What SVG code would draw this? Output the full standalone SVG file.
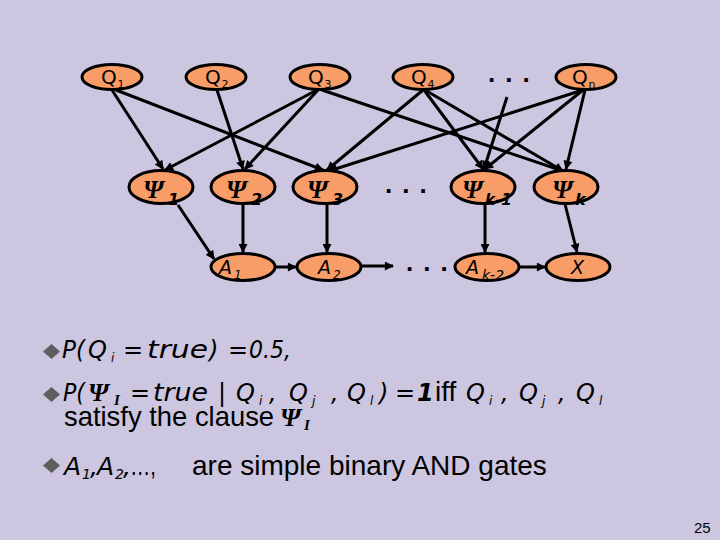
<svg xmlns="http://www.w3.org/2000/svg" width="720" height="540" viewBox="0 0 720 540">
<style>
.nd{fill:#F99D68;stroke:#000;stroke-width:3}
.e{stroke:#000;stroke-width:3;fill:none;marker-end:url(#arr)}
.t{font-family:"DejaVu Sans",sans-serif;fill:#000}
.i{font-style:italic}
.ps{font-family:"Liberation Serif",serif;font-style:italic;font-weight:bold;fill:#000}
.ar{font-family:"Liberation Sans",Arial,sans-serif;fill:#000}
.dots{font-family:"Liberation Sans",sans-serif;font-weight:bold;font-size:26px;letter-spacing:10px;fill:#000}
.bul{fill:#5e5e5e}
</style>
<defs>
<marker id="arr" viewBox="0 0 10 10" refX="9" refY="5" markerWidth="11" markerHeight="9" markerUnits="userSpaceOnUse" orient="auto"><path d="M0,0 L10,5 L0,10 z" fill="#000"/></marker>
</defs>
<rect width="720" height="540" fill="#CCC6E0"/>
<g id="connectors">
<line class="e" x1="112" y1="90" x2="163" y2="169"/>
<line class="e" x1="116" y1="90" x2="323" y2="170"/>
<line class="e" x1="217" y1="90" x2="243" y2="169"/>
<line class="e" x1="317" y1="90" x2="165" y2="170"/>
<line class="e" x1="318" y1="90" x2="245" y2="169"/>
<line class="e" x1="322" y1="90" x2="563" y2="171"/>
<line class="e" x1="423" y1="90" x2="327" y2="170"/>
<line class="e" x1="424" y1="90" x2="483" y2="169"/>
<line class="e" x1="425" y1="90" x2="563" y2="171"/>
<line class="e" x1="583" y1="90" x2="329" y2="171"/>
<line class="e" x1="583" y1="90" x2="485" y2="169"/>
<line class="e" x1="585" y1="90" x2="566" y2="169"/>
<line class="e" x1="507" y1="97" x2="484" y2="169"/>
<line class="e" x1="178" y1="205" x2="214" y2="259"/>
<line class="e" x1="243" y1="204" x2="243" y2="252"/>
<line class="e" x1="327" y1="204" x2="327" y2="252"/>
<line class="e" x1="276" y1="267" x2="296" y2="267"/>
<line class="e" x1="362" y1="266" x2="393" y2="266"/>
<line class="e" x1="485" y1="204" x2="485" y2="252"/>
<line class="e" x1="565" y1="204" x2="577" y2="252"/>
<line class="e" x1="520" y1="267" x2="545" y2="267"/>
</g>
<g id="q1"><ellipse class="nd" cx="112" cy="77" rx="30" ry="12.5"/><text class="t" x="101" y="84" font-size="20">Q</text><text class="t" x="117.5" y="88" font-size="11">1</text></g>
<g id="q2"><ellipse class="nd" cx="216" cy="77" rx="30" ry="12.5"/><text class="t" x="205" y="84" font-size="20">Q</text><text class="t" x="221.5" y="88" font-size="11">2</text></g>
<g id="q3"><ellipse class="nd" cx="320" cy="77" rx="30" ry="12.5"/><text class="t" x="308" y="84" font-size="20">Q</text><text class="t" x="324.5" y="88" font-size="11">3</text></g>
<g id="q4"><ellipse class="nd" cx="423" cy="77" rx="30" ry="12.5"/><text class="t" x="411" y="84" font-size="20">Q</text><text class="t" x="427.5" y="88" font-size="11">4</text></g>
<g id="qn"><ellipse class="nd" cx="586" cy="77" rx="30" ry="12.5"/><text class="t" x="572" y="84" font-size="20">Q</text><text class="t" x="588.5" y="88" font-size="11">n</text></g>
<text class="dots" x="488" y="82">...</text>
<g id="psi1"><ellipse class="nd" cx="161" cy="187" rx="32" ry="16.5"/><text class="ps" x="143" y="198" font-size="26">Ψ</text><text class="t i" x="168" y="205" font-size="16" font-weight="bold">1</text></g>
<g id="psi2"><ellipse class="nd" cx="243" cy="187" rx="32" ry="16.5"/><text class="ps" x="226" y="198" font-size="26">Ψ</text><text class="t i" x="251" y="205" font-size="16" font-weight="bold">2</text></g>
<g id="psi3"><ellipse class="nd" cx="325" cy="187" rx="32" ry="16.5"/><text class="ps" x="307" y="198" font-size="26">Ψ</text><text class="t i" x="332" y="205" font-size="16" font-weight="bold">3</text></g>
<text class="dots" x="385" y="193">...</text>
<g id="psik1"><ellipse class="nd" cx="483" cy="187" rx="32" ry="16.5"/><text class="ps" x="462" y="198" font-size="26">Ψ</text><text class="t i" x="485" y="205" font-size="15" font-weight="bold">k-1</text></g>
<g id="psik"><ellipse class="nd" cx="566" cy="187" rx="32" ry="16.5"/><text class="ps" x="552" y="198" font-size="26">Ψ</text><text class="t i" x="575" y="205" font-size="16" font-weight="bold">k</text></g>
<g id="a1"><ellipse class="nd" cx="243" cy="267" rx="32" ry="13.5"/><text class="t i" x="219" y="274" font-size="19">A</text><text class="t i" x="234" y="279" font-size="12">1</text></g>
<g id="a2"><ellipse class="nd" cx="329" cy="267" rx="32" ry="13.5"/><text class="t i" x="318" y="274" font-size="19">A</text><text class="t i" x="333" y="279" font-size="12">2</text></g>
<text class="dots" x="406" y="271">...</text>
<g id="ak2"><ellipse class="nd" cx="487" cy="267" rx="32" ry="13.5"/><text class="t i" x="466" y="274" font-size="19">A</text><text class="t i" x="482" y="280" font-size="14">k-2</text></g>
<g id="x"><ellipse class="nd" cx="578" cy="267" rx="32" ry="13.5"/><text class="t i" x="571" y="274" font-size="19">X</text></g>
<g id="bullets">
<polygon class="bul" points="51.5,344 60,351.5 51.5,359 43,351.5"/>
<polygon class="bul" points="51.5,387 60,394.5 51.5,402 43,394.5"/>
<polygon class="bul" points="51.5,458 60,465.5 51.5,473 43,465.5"/>
</g>
<g id="line1" class="t i" font-size="24">
<text x="62" y="358" textLength="23" lengthAdjust="spacingAndGlyphs">P(</text>
<text x="88" y="358">Q</text>
<text x="111" y="362" font-size="12">i</text>
<text x="123" y="358">=</text>
<text x="147" y="358" textLength="61" lengthAdjust="spacingAndGlyphs">true</text>
<text x="209" y="358">)</text>
<text x="228" y="358">=</text>
<text x="249" y="358" textLength="42" lengthAdjust="spacingAndGlyphs">0.5,</text>
</g>
<g id="line2" class="t i" font-size="24">
<text x="63" y="401" textLength="22" lengthAdjust="spacingAndGlyphs">P(</text>
<text class="ps" x="88" y="401" font-size="26">Ψ</text>
<text class="ps" x="114" y="405" font-size="15">I</text>
<text x="130" y="401">=</text>
<text x="153" y="401" textLength="55" lengthAdjust="spacingAndGlyphs">true</text>
<text x="218" y="401">|</text>
<text x="236" y="401">Q</text><text x="259" y="405" font-size="12">i</text>
<text x="269" y="401">,</text>
<text x="289" y="401">Q</text><text x="312" y="405" font-size="12">j</text>
<text x="331" y="401">,</text>
<text x="347" y="401">Q</text><text x="370" y="405" font-size="12">l</text>
<text x="379" y="401">)</text>
<text x="395" y="401">=</text>
<text x="417" y="401" font-weight="bold">1</text>
<text class="ar" x="435" y="401" font-size="28" font-style="normal">iff</text>
<text x="466" y="401">Q</text><text x="489" y="405" font-size="12">i</text>
<text x="501" y="401">,</text>
<text x="519" y="401">Q</text><text x="542" y="405" font-size="12">j</text>
<text x="558" y="401">,</text>
<text x="576" y="401">Q</text><text x="599" y="405" font-size="12">l</text>
</g>
<g id="line3">
<text class="ar" x="64" y="426" font-size="27.4">satisfy the clause</text>
<text class="ps" x="280" y="426" font-size="26">Ψ</text>
<text class="ps" x="304" y="430" font-size="15">I</text>
</g>
<g id="line4" class="t i" font-size="25">
<text x="64" y="475">A</text><text x="82" y="479" font-size="14">1</text><text x="90" y="475">,</text>
<text x="97" y="475">A</text><text x="115" y="479" font-size="14">2</text><text x="123" y="475">,</text>
<text class="ar" x="130" y="475" font-size="28" font-style="normal" textLength="26" lengthAdjust="spacingAndGlyphs">…,</text>
<text class="ar" x="192" y="475" font-size="28" font-style="normal">are simple binary AND gates</text>
</g>
<text class="ar" x="694" y="533" font-size="15">25</text>
</svg>
